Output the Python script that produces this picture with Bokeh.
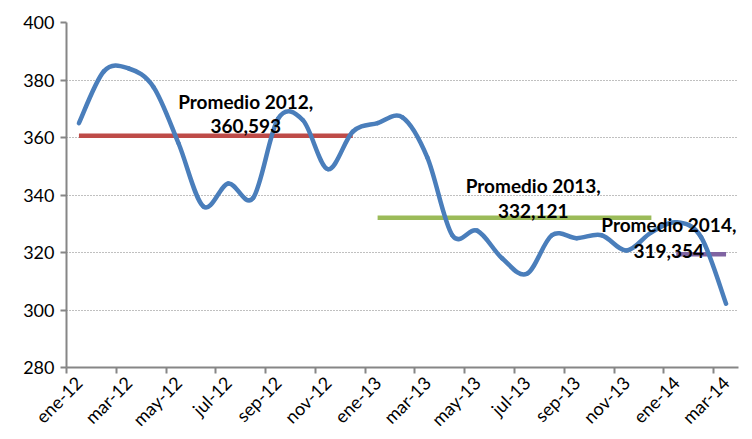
import numpy as np
from bokeh.plotting import figure
from bokeh.models import Range1d, FixedTicker, Label
from bokeh.embed import file_html
from bokeh.resources import INLINE

# ---------------- data ----------------
months = ["ene-12", "feb-12", "mar-12", "abr-12", "may-12", "jun-12", "jul-12", "ago-12",
          "sep-12", "oct-12", "nov-12", "dic-12",
          "ene-13", "feb-13", "mar-13", "abr-13", "may-13", "jun-13", "jul-13", "ago-13",
          "sep-13", "oct-13", "nov-13", "dic-13",
          "ene-14", "feb-14", "mar-14"]
prices = [365.0, 383.0, 384.0, 377.5, 358.0, 336.0, 344.0, 339.0, 366.5, 366.0, 349.0, 362.0,
          365.0, 367.0, 353.0, 326.0, 327.6, 318.0, 312.6, 326.0, 325.0, 326.0, 320.7, 327.0,
          330.5, 325.3, 302.2]
avg_names = ["Promedio 2012,", "Promedio 2013,", "Promedio 2014,"]
avg_values = [360.593, 332.121, 319.354]
avg_texts = ["360,593", "332,121", "319,354"]
avg_first = ["ene-12", "ene-13", "ene-14"]
avg_last = ["dic-12", "dic-13", "mar-14"]
avg_colors = ["#BE4B48", "#9BBB59", "#8064A2"]
y_ticks = [280, 300, 320, 340, 360, 380, 400]

FONT = "Lato"
AXIS_COLOR = "#868686"

n = len(months)
xs = np.arange(n, dtype=float)
ys = np.array(prices, dtype=float)

p = figure(frame_width=672, frame_height=345, output_backend="svg", toolbar_location=None,
           x_range=Range1d(-0.5, n - 0.5), y_range=Range1d(280, 400),
           min_border_left=66, min_border_top=22, min_border_right=8)
p.outline_line_color = None
p.background_fill_color = "white"

# average lines
for name, v, a, b, c in zip(avg_names, avg_values, avg_first, avg_last, avg_colors):
    i0 = months.index(a)
    i1 = months.index(b)
    p.line([i0, i1], [v, v], line_color=c, line_width=4.5)

# smoothed price line (Excel-style cubic Bezier through the data points)
P = np.column_stack([xs, ys])
Pext = np.vstack([P[0], P, P[-1]])
x0, y0, x1, y1, cx0, cy0, cx1, cy1 = [], [], [], [], [], [], [], []
for i in range(n - 1):
    pm1, p0, p1, p2 = Pext[i], Pext[i + 1], Pext[i + 2], Pext[i + 3]
    c0 = p0 + (p1 - pm1) / 6.0
    c1 = p1 - (p2 - p0) / 6.0
    x0.append(p0[0]); y0.append(p0[1]); x1.append(p1[0]); y1.append(p1[1])
    cx0.append(c0[0]); cy0.append(c0[1]); cx1.append(c1[0]); cy1.append(c1[1])
p.bezier(x0=x0, y0=y0, x1=x1, y1=y1, cx0=cx0, cy0=cy0, cx1=cx1, cy1=cy1,
         line_color="#4A7EBB", line_width=4.5, line_cap="round")

# labels for averages
label_pos = [(6.7, 372.5, 364.1), (18.25, 343.3, 334.6), (23.7, 329.8, 320.6)]
for (lx, ly1, ly2), name, txt in zip(label_pos, avg_names, avg_texts):
    for yy, t in ((ly1, name), (ly2, txt)):
        p.add_layout(Label(x=lx, y=yy, text=t, text_align="center", text_baseline="alphabetic",
                           text_font=FONT, text_font_style="bold", text_font_size="19px",
                           text_color="black"))

# axes
p.xaxis.ticker = FixedTicker(ticks=list(range(0, n, 2)),
                             minor_ticks=[i - 0.5 for i in range(0, n + 1, 2)])
p.xaxis.major_label_overrides = {i: months[i] for i in range(0, n, 2)}
p.xaxis.major_label_orientation = np.pi / 4
p.xaxis.major_tick_out = 0
p.xaxis.major_tick_in = 0
p.xaxis.minor_tick_out = 6
p.xaxis.minor_tick_in = 0
p.xaxis.minor_tick_line_color = AXIS_COLOR
p.xaxis.minor_tick_line_width = 2

p.yaxis.ticker = FixedTicker(ticks=y_ticks)
p.yaxis.major_tick_out = 6
p.yaxis.major_tick_in = 0
p.yaxis.minor_tick_line_color = None
p.yaxis.major_tick_line_color = AXIS_COLOR
p.yaxis.major_tick_line_width = 2

for ax in (p.xaxis, p.yaxis):
    ax.axis_line_color = AXIS_COLOR
    ax.axis_line_width = 2
    ax.major_label_text_font = FONT
    ax.major_label_text_font_size = "18px"
    ax.major_label_text_color = "black"
    ax.major_label_standoff = 6

p.xgrid.grid_line_color = None
p.ygrid.ticker = FixedTicker(ticks=y_ticks[1:])
p.ygrid.grid_line_color = "#808080"
p.ygrid.grid_line_dash = "1 2"
p.ygrid.grid_line_width = 1

open("out.html", "w").write(file_html(p, INLINE))
